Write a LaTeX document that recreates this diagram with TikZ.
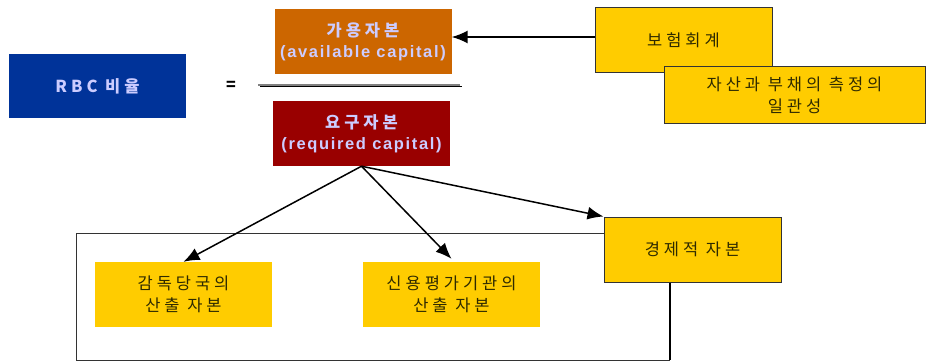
\documentclass[tikz,border=0pt]{standalone}
\usepackage{fontspec}
\setmainfont{Noto Sans CJK KR}
\newfontfamily\kr[LetterSpace=24]{Noto Sans CJK KR}
\newfontfamily\lat[LetterSpace=10]{Liberation Sans}
\usetikzlibrary{arrows.meta}
\definecolor{rbcblue}{HTML}{003399}
\definecolor{availor}{HTML}{CC6600}
\definecolor{reqred}{HTML}{990000}
\definecolor{ylw}{HTML}{FFCC00}
\definecolor{lav}{HTML}{CCCCFF}
\definecolor{dtxt}{HTML}{2E2A00}
\definecolor{bord}{HTML}{333333}
\tikzset{
  colbox/.style={rectangle, minimum width=177pt, minimum height=65pt, inner sep=0pt,
    text=lav, font=\fontsize{16.5}{21}\selectfont\bfseries, align=center},
  ybox/.style={rectangle, fill=ylw, minimum width=177pt, minimum height=65pt, inner sep=0pt,
    text=dtxt, font=\kr\fontsize{16.5}{22}\selectfont, align=center},
  ybord/.style={ybox, draw=bord, line width=1pt},
  arr/.style={-{Latex[length=16pt,width=13pt]}, line width=1.5pt},
}
\begin{document}
\begin{tikzpicture}[x=1pt,y=-1pt]
\useasboundingbox (0,0) rectangle (926,361);
% outer frame
\coordinate (ftl) at (76,233);
\coordinate (fbl) at (76,360);
\coordinate (fbr) at (670,360);
\node[colbox, fill=rbcblue, minimum height=64pt] (rbc) at (97.5,86) {\kr RBC 비율};
\node[font=\fontsize{16}{16}\selectfont\bfseries] (eq) at (231,86) {=};
\node[colbox, fill=availor] (avail) at (363,41.5) {\kr 가용자본\\\lat (available capital)};
\node[colbox, fill=reqred] (req) at (361.5,133.5) {\kr 요구자본\\\lat (required capital)};
\coordinate (fl1) at (258,84.5);
\coordinate (fl2) at (460,84.5);
\coordinate (fk1) at (260,86.5);
\coordinate (fk2) at (462,86.5);
\draw[black, line width=1.5pt] (fk1) -- (fk2);
\draw[gray, line width=2pt] (fl1) -- (fl2);
\node[ybord] (boh) at (683.5,40.5) {보험회계};
\node[ybord, minimum width=261pt, minimum height=56pt] (cons) at (794.5,95) {자산과 부채의 측정의\\일관성};
\draw[bord, line width=1pt] (fbl) -- (ftl) -- (ftl -| 604,0);
\draw[bord, line width=1pt] (fbl) -- (fbr);
\node[ybord] (econ) at (692.5,249.5) {경제적 자본};
\draw[black, line width=2pt] (fbr |- econ.south) -- (fbr);
\node[ybox] (sup) at (183.5,294.5) {감독당국의\\산출 자본};
\node[ybox] (cred) at (451.5,294.5) {신용평가기관의\\산출 자본};
\draw[arr] ([yshift=3.5pt]boh.west) -- ([yshift=3.5pt]boh.west -| avail.east);
\draw[arr] (req.south) -- (sup.north);
\draw[arr] (req.south) -- ([yshift=3pt]cred.north);
\draw[arr] (req.south) -- (econ.north west);
\end{tikzpicture}
\end{document}
